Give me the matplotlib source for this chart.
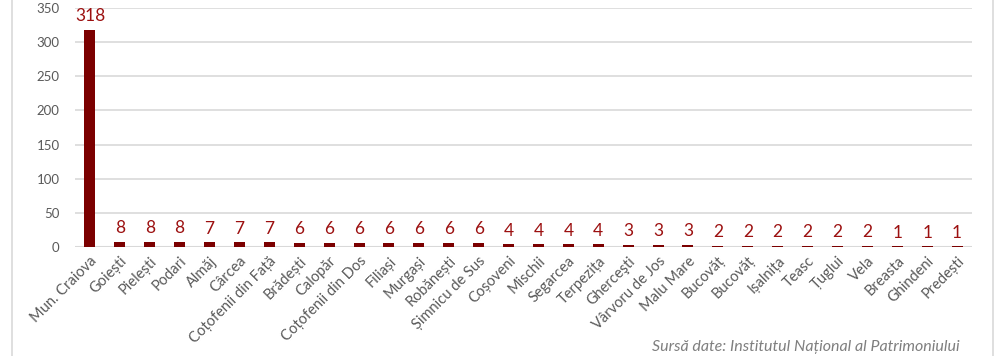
import matplotlib
matplotlib.use("Agg")
import matplotlib.pyplot as plt
from matplotlib.lines import Line2D
import numpy as np

# ── data ─────────────────────────────────────────────────────────────────────
localitati = [
    "Mun. Craiova", "Goiești", "Pielești", "Podari", "Almăj", "Cârcea",
    "Coțofenii din Față", "Brădești", "Calopăr", "Coțofenii din Dos",
    "Filiași", "Murgași", "Robănești", "Șimnicu de Sus", "Coșoveni",
    "Mischii", "Segarcea", "Terpezița", "Gherceşti", "Vârvoru de Jos",
    "Malu Mare", "Bucovăț", "Bucovăț", "Ișalnița", "Teasc", "Țuglui",
    "Vela", "Breasta", "Ghindeni", "Predești",
]
monumente = [318, 8, 8, 8, 7, 7, 7, 6, 6, 6, 6, 6, 6, 6, 4, 4, 4, 4,
             3, 3, 3, 2, 2, 2, 2, 2, 2, 1, 1, 1]
y_ticks = [0, 50, 100, 150, 200, 250, 300, 350]
sursa = "Sursă date: Institutul Național al Patrimoniului"

BAR = "#7b0000"
LABEL = "#9c1010"
GREY = "#595959"
GRID = "#d9d9d9"

plt.rcParams["font.family"] = ["Lato", "DejaVu Sans"]

W, H = 997, 356
fig = plt.figure(figsize=(W / 100, H / 100), dpi=100)
ax = fig.add_axes([75 / W, 1 - 247 / H, (972 - 75) / W, (247 - 8) / H])

x = np.arange(len(localitati))
ax.bar(x, monumente, width=0.37, color=BAR, zorder=3)
for xi, v in zip(x, monumente):
    ax.annotate(str(v), (xi, v), xytext=(0, 4), textcoords="offset points",
                ha="center", va="bottom", fontsize=12.5, color=LABEL, zorder=4)

ax.set_xlim(-0.5, len(localitati) - 0.5)
ax.set_ylim(0, 350)
ax.set_yticks(y_ticks)
ax.set_yticklabels([str(t) for t in y_ticks], fontsize=9.5, color=GREY)
ax.set_xticks(x)
ax.set_xticklabels(localitati, rotation=45, ha="right", rotation_mode="anchor",
                   fontsize=10.5, color=GREY)
ax.tick_params(axis="both", length=0)
ax.tick_params(axis="y", pad=11)
ax.tick_params(axis="x", pad=5)
ax.yaxis.grid(True, color=GRID, lw=1.2, zorder=0)
for s in ax.spines.values():
    s.set_visible(False)
ax.axhline(0, color=GRID, lw=1.5, zorder=2)

# chart frame (sides only visible in the crop)
fig.add_artist(Line2D([12 / W, 12 / W], [0, 1], color="#d9d9d9", lw=1.2))
fig.add_artist(Line2D([993 / W, 993 / W], [0, 1], color="#d9d9d9", lw=1.2))

fig.text(960 / W, 1 - 340 / H, sursa, ha="right", va="top", fontsize=11.5,
         style="italic", color="#7f7f7f")

fig.savefig("out.png", dpi=100)
